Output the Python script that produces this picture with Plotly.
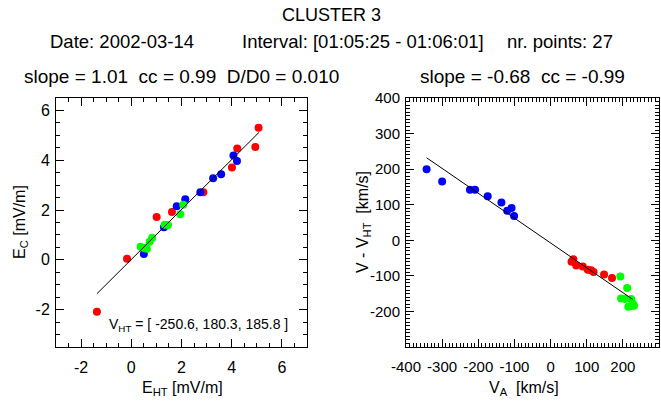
import plotly.graph_objects as go

# --- datos ---
# panel izquierdo: E_HT vs E_C  [mV/m]
e_ht_red = [5.07, 4.94, 4.22, 4.01, 2.87, 1.62, 1.01, -0.17, -1.37]
e_c_red = [5.31, 4.53, 4.47, 3.71, 2.71, 1.92, 1.72, 0.04, -2.08]
e_ht_blue = [4.07, 4.21, 3.58, 3.26, 2.75, 2.15, 1.81, 1.30, 0.50]
e_c_blue = [4.19, 3.97, 3.44, 3.28, 2.71, 2.43, 2.15, 1.31, 0.23]
e_ht_green = [2.07, 1.95, 1.46, 1.33, 0.83, 0.73, 0.37, 0.62, 0.51]
e_c_green = [2.21, 1.83, 1.40, 1.41, 0.89, 0.73, 0.53, 0.45, 0.48]
fit_left_x = [-1.37, 5.10]
fit_left_y = [-1.36, 5.13]

# panel derecho: V_A vs V - V_HT  [km/s]
va_blue = [-343, -300, -223, -209, -174, -136, -120, -108, -101]
dv_blue = [200, 165, 142, 142, 124, 106, 83, 91, 68]
va_red = [63, 58, 71, 89, 103, 112, 119, 148, 170]
dv_red = [-53, -60, -71, -74, -83, -84, -89, -96, -106]
va_green = [193, 212, 195, 206, 223, 215, 224, 231, 227]
dv_green = [-102, -134, -164, -165, -165, -187, -185, -184, -177]
fit_right_x = [-343, 227]
fit_right_y = [232, -166]

left_ticks = [-2, 0, 2, 4, 6]
right_xticks = [-400, -300, -200, -100, 0, 100, 200]
right_yticks = [-200, -100, 0, 100, 200, 300, 400]

FONT = "Liberation Sans, Arial, Helvetica, sans-serif"
W, H = 661, 407


def px(x):
    return x / W


def py(y):
    return (H - y) / H


fig = go.Figure()

colores = {"red": "#ff0000", "blue": "#0000ff", "green": "#00ff00"}

# puntos panel izquierdo
for xs, ys, c in [(e_ht_red, e_c_red, "red"), (e_ht_blue, e_c_blue, "blue"),
                  (e_ht_green, e_c_green, "green")]:
    fig.add_trace(go.Scatter(x=xs, y=ys, mode="markers", xaxis="x", yaxis="y",
                             marker=dict(color=colores[c], size=8), showlegend=False))
fig.add_trace(go.Scatter(x=fit_left_x, y=fit_left_y, mode="lines", xaxis="x", yaxis="y",
                         line=dict(color="black", width=1), showlegend=False))

# puntos panel derecho
for xs, ys, c in [(va_blue, dv_blue, "blue"), (va_red, dv_red, "red"),
                  (va_green, dv_green, "green")]:
    fig.add_trace(go.Scatter(x=xs, y=ys, mode="markers", xaxis="x2", yaxis="y2",
                             marker=dict(color=colores[c], size=8), showlegend=False))
fig.add_trace(go.Scatter(x=fit_right_x, y=fit_right_y, mode="lines", xaxis="x2", yaxis="y2",
                         line=dict(color="black", width=1), showlegend=False))

eje = dict(showline=True, linecolor="black", linewidth=1, mirror="allticks",
           ticks="inside", ticklen=8, tickcolor="black", showgrid=False,
           zeroline=False, tickfont=dict(size=16, color="black"), tickangle=0,
           automargin=False)

fig.update_layout(
    template="none",
    width=W, height=H,
    margin=dict(l=0, r=0, t=0, b=0, autoexpand=False),
    paper_bgcolor="white", plot_bgcolor="white",
    font=dict(family=FONT, color="black"),
    xaxis=dict(eje, domain=[px(56), px(307)], range=[-3, 7],
               tickmode="array", tickvals=left_ticks,
               ticktext=[str(v) for v in left_ticks], ticklabelstandoff=6,
               minor=dict(ticks="inside", ticklen=4, tickmode="linear", tick0=0, dtick=0.5,
                          tickcolor="black")),
    yaxis=dict(eje, domain=[py(347), py(98)], range=[-3.5, 6.5],
               tickmode="array", tickvals=left_ticks,
               ticktext=[str(v) for v in left_ticks], ticklabelstandoff=2,
               minor=dict(ticks="inside", ticklen=4, tickmode="linear", tick0=0, dtick=0.5,
                          tickcolor="black")),
    xaxis2=dict(eje, domain=[px(406), px(659)], range=[-400, 300], anchor="y2",
                tickmode="array", tickvals=right_xticks,
                ticktext=[str(v) for v in right_xticks], ticklabelstandoff=6,
                tickfont=dict(size=15, color="black"),
                minor=dict(ticks="inside", ticklen=4, tickmode="linear", tick0=0, dtick=10,
                           tickcolor="black")),
    yaxis2=dict(eje, domain=[py(347), py(98)], range=[-300, 400], anchor="x2",
                tickmode="array", tickvals=right_yticks,
                ticktext=[str(v) for v in right_yticks], ticklabelstandoff=2,
                tickfont=dict(size=15, color="black"),
                minor=dict(ticks="inside", ticklen=4, tickmode="linear", tick0=0, dtick=10,
                           tickcolor="black")),
)

nb = "\u00a0"
textos = [
    ("CLUSTER 3", 331, 15, 18, "center", 0),
    ("Date: 2002-03-14", 122, 41, 18.5, "center", 0),
    ("Interval: [01:05:25 - 01:06:01]", 363, 41, 18.5, "center", 0),
    ("nr. points: 27", 560, 41, 18.5, "center", 0),
    (f"slope = 1.01{nb}{nb}cc = 0.99{nb}{nb}D/D0 = 0.010", 181, 77, 19, "center", 0),
    (f"slope = -0.68{nb}{nb}cc = -0.99", 522, 77, 19, "center", 0),
    ("E<sub>HT</sub> [mV/m]", 182, 388, 16, "center", 0),
    (f"V<sub>A</sub>{nb} [km/s]", 524, 388, 16, "center", 0),
    ("E<sub>C</sub> [mV/m]", 21, 222, 16, "center", -90),
    (f"V - V<sub>HT</sub>{nb} [km/s]", 364, 222, 16, "center", -90),
    ("V<sub>HT</sub> = [ -250.6, 180.3, 185.8 ]", 107, 325, 14, "left", 0),
]
for txt, x, y, size, anchor, ang in textos:
    fig.add_annotation(text=txt, x=px(x), y=py(y), xref="paper", yref="paper",
                       xanchor=anchor, yanchor="middle", showarrow=False,
                       textangle=ang, font=dict(size=size, color="black", family=FONT))

fig.write_html("out.html", config={"displayModeBar": False},
               post_script="document.body.style.margin='0';")
